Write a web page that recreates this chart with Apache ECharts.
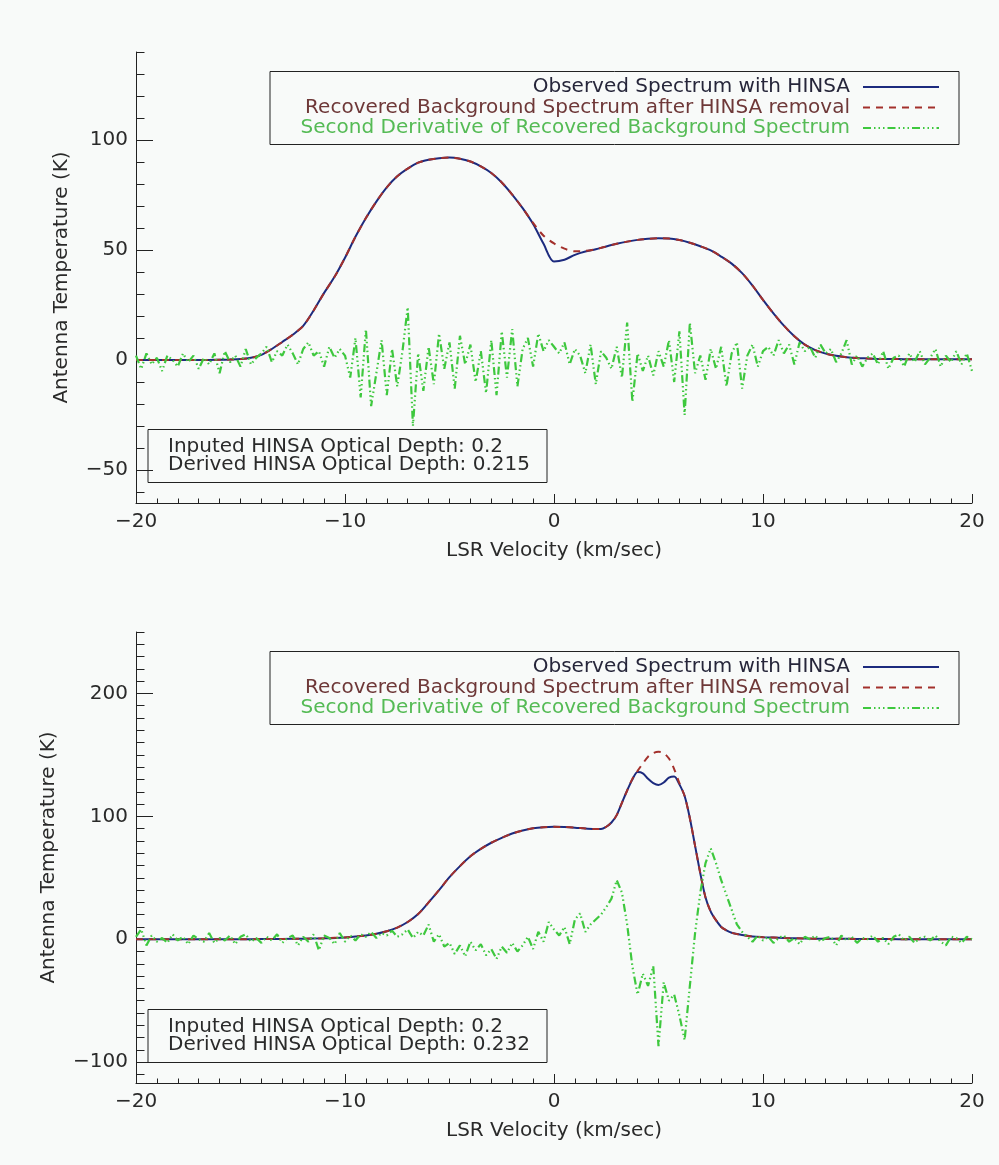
<!DOCTYPE html>
<html><head><meta charset="utf-8">
<script src="https://cdn.jsdelivr.net/npm/echarts@6/dist/echarts.min.js"></script>
<style>html,body{margin:0;padding:0;background:#f8faf9}#c{width:999px;height:1165px}</style>
</head><body><div id="c"></div>
<script>
// ---------- DATA ----------
// Top panel (velocity grid -20..20 km/s every 0.5)
const topObs = [0,0,0,0,0,0,0,0,0.1,0.2,0.4,
  1.0,2.3,5.0,8.2,11.5,15.5,22.5,30.5,37.8,46.5,
  56,64.5,72,78.5,83.5,87,89.7,91,91.7,92,
  91.5,90.2,88,85,80.7,75.2,69,61.8,52.8,44.8,
  45.6,47.8,49.3,50.3,51.6,52.8,53.8,54.6,55.1,55.3,
  55.2,54.5,53.3,51.7,49.8,47,43.8,39.5,33.8,27.3,
  21.2,15.6,10.8,7.0,4.5,2.9,1.9,1.3,0.9,0.7,
  0.5,0.4,0.4,0.3,0.3,0.3,0.3,0.3,0.3,0.3];
const topBg = [0,0,0,0,0,0,0,0,0.1,0.2,0.4,
  1.0,2.3,5.0,8.2,11.5,15.5,22.5,30.5,37.8,46.5,
  56,64.5,72,78.5,83.5,87,89.7,91,91.7,92,
  91.5,90.2,88,85,80.7,75.2,69,62.3,56.5,53,
  50.6,49.4,49.6,50.4,51.6,52.8,53.8,54.6,55.1,55.3,
  55.2,54.5,53.3,51.7,49.8,47,43.8,39.5,33.8,27.3,
  21.2,15.6,10.8,7.0,4.5,2.9,1.9,1.3,0.9,0.7,
  0.5,0.4,0.4,0.3,0.3,0.3,0.3,0.3,0.3,0.3];
// second derivative (velocity grid -20..20 every 0.25)
const topDeriv = [2,-4,3,-2,1,-5,2,0,-3,3,-1,2,-4,1,-2,3,-6,4,-1,2,-3,5,-2,1,3,
  6,-1,4,2,7,3,-2,5,8,2,4,-3,6,1,5,2,
  -8,10,-17,14,-21,-6,9,-16,5,-12,4,24,-30,3,-14,6,-11,12,-4,8,
  -13,11,-2,7,-10,4,-15,9,-16,13,-8,14,-12,5,10,-3,12,4,9,6,
  3,8,-2,5,2,-6,7,-11,4,1,-4,6,-8,17,-19,3,-5,2,-7,4,
  -3,9,-10,13,-25,17,-6,2,-9,5,-4,6,-12,3,8,-13,2,7,-3,4,
  6,2,9,3,7,-2,8,4,6,1,7,3,5,-1,3,9,-2,2,-3,1,
  3,-2,4,-4,1,2,-3,3,-1,4,-2,1,5,-3,2,-1,4,-2,3,-5];

// Bottom panel
const botVel = [-20,-19,-18,-17,-16,-15,-14,-13,-12,-11,-10,
  -9.5,-9,-8.5,-8,-7.5,-7,-6.5,-6,-5.5,-5,-4.5,-4,-3.5,-3,-2.5,-2,-1.5,-1,-0.5,0,0.5,1,1.5,2,
  2.25,2.5,2.75,3,3.25,3.5,3.75,4,4.25,4.5,4.75,5,5.25,5.5,5.75,6,6.25,6.5,6.75,7,7.25,7.5,7.75,8,8.25,8.5,
  9,9.5,10,11,12,13,14,15,16,17,18,19,20];
const botObs = [0,0,0,0,0,0,0.1,0.2,0.4,0.8,1.5,
  2.2,3.0,4.5,6.5,9.5,14,20.5,30,40,50.5,59.5,67.5,73.5,78.5,82.5,86,88.5,90.3,91.2,91.5,91.3,90.8,90.1,89.6,
  89.6,91.5,95,101,111,121,130,136,135,130.5,127,125.4,127.5,131.5,132.5,126,116.5,98.5,76,53.7,34,22.5,15.5,10,7.2,5.2,
  3.4,2.2,1.7,1.0,0.6,0.4,0.3,0.2,0.1,0,0,0,0];
const botBg = [0,0,0,0,0,0,0.1,0.2,0.4,0.8,1.5,
  2.2,3.0,4.5,6.5,9.5,14,20.5,30,40,50.5,59.5,67.5,73.5,78.5,82.5,86,88.5,90.3,91.2,91.5,91.3,90.8,90.1,89.6,
  89.6,91.5,95,101,111,121,130.5,137,143,148.5,151.5,152.5,151.5,147,138.5,127,116.5,98.5,76,53.7,34,22.5,15.5,10,7.2,5.2,
  3.4,2.2,1.7,1.0,0.6,0.4,0.3,0.2,0.1,0,0,0,0];
const botDeriv = [2,8,-5,3,-2,1,-3,4,-1,2,-4,3,0,-2,5,-3,1,-1,3,-4,2,4,-2,1,-3,
  2,-1,4,-3,1,3,-5,2,-2,4,-9,3,1,-4,5,-2,
  3,-1,4,2,6,1,5,3,7,2,4,8,1,6,3,12,-2,4,-6,-3,
  -12,-5,-14,-2,-9,-4,-13,-8,-16,-6,-11,-3,-10,-5,2,-8,6,-2,14,8,
  3,10,-4,16,21,6,12,16,20,26,33,48,38,12,-22,-45,-28,-38,-22,-87,
  -35,-50,-45,-62,-82,-38,5,38,62,74,62,48,36,24,12,6,2,-2,3,-1,
  2,-3,1,3,-2,1,-4,2,0,3,-2,1,2,-5,3,-1,2,-3,1,0,
  3,-2,1,-4,2,4,-1,2,-3,1,2,-1,3,-2,-5,2,1,-3,2,0];

const xTicks = [-20,-10,0,10,20];
const topMajorTicks = [-50,0,50,100];
const topMinorTicks = [-60,-40,-30,-20,-10,10,20,30,40,60,70,80,90,110,120,130,140];
const botMajorTicks = [-100,0,100,200];
const botMinorTicks = [-110,-90,-80,-70,-60,-50,-40,-30,-20,-10,10,20,30,40,50,60,70,80,90,
  110,120,130,140,150,160,170,180,190,210,220,230,240,250];

const legendLabels = ['Observed Spectrum with HINSA',
  'Recovered Background Spectrum after HINSA removal',
  'Second Derivative of Recovered Background Spectrum'];
const topDepth = ['Inputed HINSA Optical Depth: 0.2','Derived HINSA Optical Depth: 0.215'];
const botDepth = ['Inputed HINSA Optical Depth: 0.2','Derived HINSA Optical Depth: 0.232'];

// ---------- BUILD ----------
const grid05 = []; for (let i = 0; i <= 80; i++) grid05.push(-20 + i * 0.5);
const grid025 = []; for (let i = 0; i <= 160; i++) grid025.push(-20 + i * 0.25);
const zip = (xs, ys) => xs.map((x, i) => [x, ys[i]]);

const FONT = 'DejaVu Sans';
const TXT = '#2a2a2a';
const AX = '#222';
const BLUE = '#1c2a7e', RED = '#a3302c', GREEN = '#3ec83e';
const GREEN_DASH = [8,3,1.5,3,1.5,3,1.5,3];
const RED_DASH = [7,6];
const minus = v => (v < 0 ? '\u2212' + Math.abs(v) : String(v));

const panels = [
  {top: 52, yMin: -65, yMax: 140, major: topMajorTicks, minor: topMinorTicks, nameGap: 64,
   vel: grid05, obs: topObs, bg: topBg, dvel: grid025, deriv: topDeriv, depth: topDepth},
  {top: 632, yMin: -117, yMax: 250, major: botMajorTicks, minor: botMinorTicks, nameGap: 77,
   vel: botVel, obs: botObs, bg: botBg, dvel: grid025, deriv: botDeriv, depth: botDepth}
];
const H = 451, L = 136, W = 836;

const grids = [], xAxes = [], yAxes = [], series = [], graphics = [];
panels.forEach((p, i) => {
  grids.push({left: L, top: p.top, width: W, height: H, containLabel: false});
  xAxes.push({type: 'value', gridIndex: i, min: -20, max: 20, interval: 10,
    axisLine: {show: true, onZero: false, lineStyle: {color: AX, width: 1}},
    axisTick: {show: true, inside: true, length: 9, lineStyle: {color: AX}},
    minorTick: {show: true, splitNumber: 10, length: 4.5, lineStyle: {color: AX}},
    splitLine: {show: false}, minorSplitLine: {show: false},
    axisLabel: {formatter: minus, margin: 9, fontSize: 20, fontFamily: FONT, color: TXT},
    name: 'LSR Velocity (km/sec)', nameLocation: 'middle', nameGap: 38,
    nameTextStyle: {fontSize: 20, fontFamily: FONT, color: TXT}});
  yAxes.push({type: 'value', gridIndex: i, position: 'left', min: p.yMin, max: p.yMax,
    splitLine: {show: false},
    axisLine: {show: true, onZero: false, lineStyle: {color: AX, width: 1}},
    axisTick: {show: true, inside: true, length: 17, customValues: p.major, lineStyle: {color: AX}},
    axisLabel: {show: true, customValues: p.major, formatter: minus, margin: 8, fontSize: 20, fontFamily: FONT, color: TXT},
    name: 'Antenna Temperature (K)', nameLocation: 'middle', nameRotate: 90, nameGap: p.nameGap,
    nameTextStyle: {fontSize: 20, fontFamily: FONT, color: TXT}});
  yAxes.push({type: 'value', gridIndex: i, position: 'left', offset: 0, min: p.yMin, max: p.yMax,
    splitLine: {show: false}, axisLine: {show: false, onZero: false},
    axisTick: {show: true, inside: true, length: 8.5, customValues: p.minor, lineStyle: {color: AX}},
    axisLabel: {show: false}});
  series.push({type: 'line', name: legendLabels[0], xAxisIndex: i, yAxisIndex: 2 * i,
    data: zip(p.vel, p.obs), symbol: 'none', smooth: 0.3, z: 3,
    lineStyle: {color: BLUE, width: 2}});
  series.push({type: 'line', name: legendLabels[1], xAxisIndex: i, yAxisIndex: 2 * i,
    data: zip(p.vel, p.bg), symbol: 'none', smooth: 0.3, z: 4,
    lineStyle: {color: RED, width: 2, type: RED_DASH}});
  series.push({type: 'line', name: legendLabels[2], xAxisIndex: i, yAxisIndex: 2 * i,
    data: zip(p.dvel, p.deriv), symbol: 'none', z: 5,
    lineStyle: {color: GREEN, width: 2.2, type: GREEN_DASH}});

  // legend box
  const T = p.top;
  graphics.push({type: 'rect', shape: {x: 270, y: T + 19.5, width: 689, height: 73},
    style: {fill: 'none', stroke: AX, lineWidth: 1}, z: 10});
  const rows = [T + 35, T + 55.5, T + 76];
  const tcol = ['#26263a', '#6e3838', '#55bb55'];
  const lstyle = [{stroke: BLUE, lineWidth: 2}, {stroke: RED, lineWidth: 2, lineDash: RED_DASH},
    {stroke: GREEN, lineWidth: 2, lineDash: GREEN_DASH}];
  rows.forEach((y, k) => {
    graphics.push({type: 'text', x: 850, y: y, z: 10,
      style: {text: legendLabels[k], fill: tcol[k], fontSize: 20, fontFamily: FONT, align: 'right', verticalAlign: 'middle'}});
    graphics.push({type: 'line', shape: {x1: 863, y1: y, x2: 939, y2: y}, style: lstyle[k], z: 10});
  });
  // optical depth box
  const B = T + H;
  const bt = B - 73.5;
  graphics.push({type: 'rect', shape: {x: 148, y: bt, width: 399, height: 53},
    style: {fill: 'none', stroke: AX, lineWidth: 1}, z: 10});
  p.depth.forEach((s, k) => {
    graphics.push({type: 'text', x: 168, y: bt + 17 + k * 18, z: 10,
      style: {text: s, fill: TXT, fontSize: 20, fontFamily: FONT, align: 'left', verticalAlign: 'middle'}});
  });
});

const chart = echarts.init(document.getElementById('c'), null, {renderer: 'canvas'});
chart.setOption({
  backgroundColor: '#f8faf9',
  animation: false,
  grid: grids, xAxis: xAxes, yAxis: yAxes, series: series, graphic: graphics
});
</script></body></html>
